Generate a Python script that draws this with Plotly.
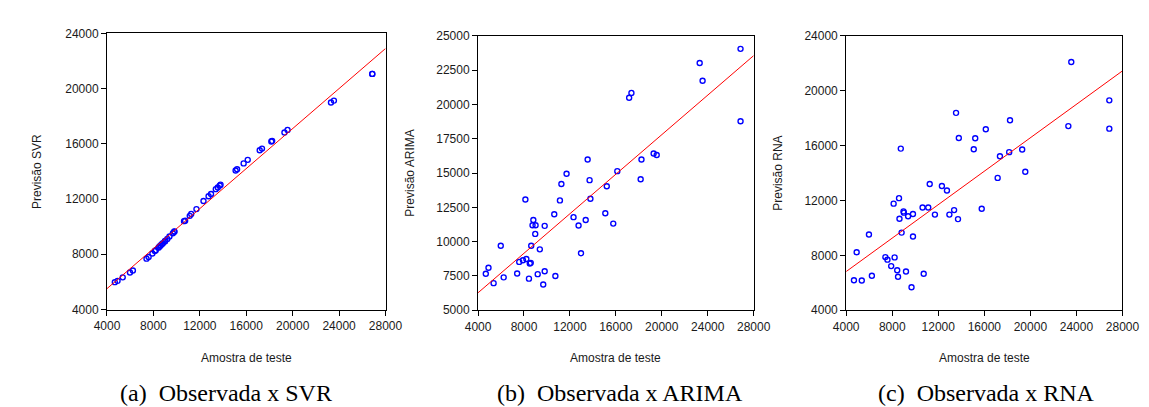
import numpy as np
import plotly.graph_objects as go

# ---------------- data ----------------
observed = [4675, 4910, 5355, 5978, 6232, 7405, 7586, 7910, 8122, 8207,
            8433, 8505, 8590, 8630, 8744, 8815, 8980, 9010, 9195, 9380,
            9676, 9802, 9803, 10636, 10734, 11130, 11257, 11708, 12315, 12753,
            12965, 13374, 13544, 13713, 13784, 15082, 15210, 15774, 16127, 17158,
            17356, 18160, 18231, 19290, 19558, 23299, 23553, 26857, 26858]

pred_svr = [5981, 6075, 6331, 6681, 6821, 7683, 7800, 8056, 8240, 8300,
            8480, 8540, 8610, 8650, 8740, 8800, 8930, 8960, 9110, 9290,
            9520, 9630, 9645, 10400, 10430, 10783, 10923, 11273, 11855, 12205,
            12368, 12718, 12834, 12974, 13044, 14070, 14163, 14583, 14839, 15538,
            15655, 16168, 16214, 16820, 17007, 18988, 19128, 21063, 21063]

pred_arima = [7653, 8099, 6972, 9695, 7394, 7676, 8521, 8638, 13075, 8732,
              7300, 8404, 8451, 9695, 11197, 11573, 10563, 11197, 7629, 9437,
              6878, 11150, 7840, 11995, 7488, 13005, 14202, 14953, 11784, 11174,
              9155, 11573, 15986, 14484, 13122, 12066, 14038, 11315, 15141, 20493,
              20845, 14554, 15986, 16432, 16315, 23028, 21737, 24061, 18779]

pred_rna = [6183, 8225, 6160, 9516, 6512, 7873, 7685, 7216, 11770, 7850,
            6911, 6441, 12169, 10667, 15784, 9657, 11207, 11113, 6817, 10854,
            5667, 11019, 9376, 11488, 6652, 11488, 13202, 10972, 13061, 12732,
            10972, 11300, 18390, 10643, 16559, 15737, 16535, 11394, 17192, 13648,
            15221, 15526, 17850, 15714, 14094, 17427, 22099, 19305, 17239]

x_ticks = [4000, 8000, 12000, 16000, 20000, 24000, 28000]
y_ticks_svr = [4000, 8000, 12000, 16000, 20000, 24000]
y_ticks_arima = [5000, 7500, 10000, 12500, 15000, 17500, 20000, 22500, 25000]
y_ticks_rna = [4000, 8000, 12000, 16000, 20000, 24000]

y_titles = ["Previsão SVR", "Previsão ARIMA", "Previsão RNA"]
x_title = "Amostra de teste"
captions = ["(a)  Observada x SVR", "(b)  Observada x ARIMA", "(c)  Observada x RNA"]

# ---------------- layout constants ----------------
W, H = 1149, 407
x_range = [4000, 28000]
panels = [
    dict(y=pred_svr, yticks=y_ticks_svr, yrange=[4000, 24000],
         px=(88.3, 374.3), py=(19, 305), ytitle_x=17, cap_x=211),
    dict(y=pred_arima, yticks=y_ticks_arima, yrange=[5000, 25000],
         px=(469.3, 752.3), py=(21.7, 305.7), ytitle_x=399, cap_x=615),
    dict(y=pred_rna, yticks=y_ticks_rna, yrange=[4000, 24000],
         px=(847.3, 1131), py=(21.7, 305.7), ytitle_x=777, cap_x=991),
]

tick_font = dict(family="Liberation Sans, Arial, sans-serif", size=12, color="#1a1a1a")
label_font = dict(family="Liberation Sans, Arial, sans-serif", size=12, color="#1a1a1a")
cap_font = dict(family="Liberation Serif, Times New Roman, serif", size=24, color="#000000")

fig = go.Figure()
annotations = []
layout_axes = {}
xs = np.array(observed, dtype=float)

for i, p in enumerate(panels):
    n = "" if i == 0 else str(i + 1)
    xa, ya = "x" + n, "y" + n
    ys = np.array(p["y"], dtype=float)

    fig.add_trace(go.Scatter(
        x=observed, y=p["y"], mode="markers", xaxis=xa, yaxis=ya,
        marker=dict(symbol="circle-open", size=5, color="#0000ff",
                    line=dict(width=1.4, color="#0000ff")),
        showlegend=False, cliponaxis=False))

    slope, intercept = np.polyfit(xs, ys, 1)
    lx = np.array(x_range, dtype=float)
    fig.add_trace(go.Scatter(
        x=lx, y=slope * lx + intercept, mode="lines", xaxis=xa, yaxis=ya,
        line=dict(color="#ff0000", width=1), showlegend=False))

    x0, x1 = p["px"]
    y0, y1 = p["py"]
    dom_x = [x0 / W, x1 / W]
    dom_y = [(H - y1) / H, (H - y0) / H]
    common = dict(showline=True, linecolor="#000000", linewidth=1, mirror=True,
                  ticks="outside", ticklen=5, tickcolor="#000000", tickwidth=1,
                  showgrid=False, zeroline=False, tickfont=tick_font)
    layout_axes["xaxis" + n] = dict(common, domain=dom_x, range=x_range,
                                    tickvals=x_ticks, ticktext=[str(v) for v in x_ticks],
                                    anchor=ya)
    layout_axes["yaxis" + n] = dict(common, domain=dom_y, range=p["yrange"],
                                    tickvals=p["yticks"], ticktext=[str(v) for v in p["yticks"]],
                                    anchor=xa)

    annotations.append(dict(text=y_titles[i], textangle=-90, xref="paper", yref="paper",
                            x=p["ytitle_x"] / W, y=(H - (y0 + y1) / 2) / H,
                            xanchor="center", yanchor="middle", showarrow=False,
                            font=label_font))
    annotations.append(dict(text=x_title, xref="paper", yref="paper",
                            x=(x0 + x1) / 2 / W, y=(H - 355) / H,
                            xanchor="center", yanchor="middle", showarrow=False,
                            font=label_font))
    annotations.append(dict(text=captions[i], xref="paper", yref="paper",
                            x=p["cap_x"] / W, y=(H - 391) / H,
                            xanchor="center", yanchor="middle", showarrow=False,
                            font=cap_font))

fig.update_layout(
    width=W, height=H, margin=dict(l=0, r=0, t=0, b=0),
    paper_bgcolor="white", plot_bgcolor="white",
    annotations=annotations, **layout_axes)

fig.write_html("out.html")
